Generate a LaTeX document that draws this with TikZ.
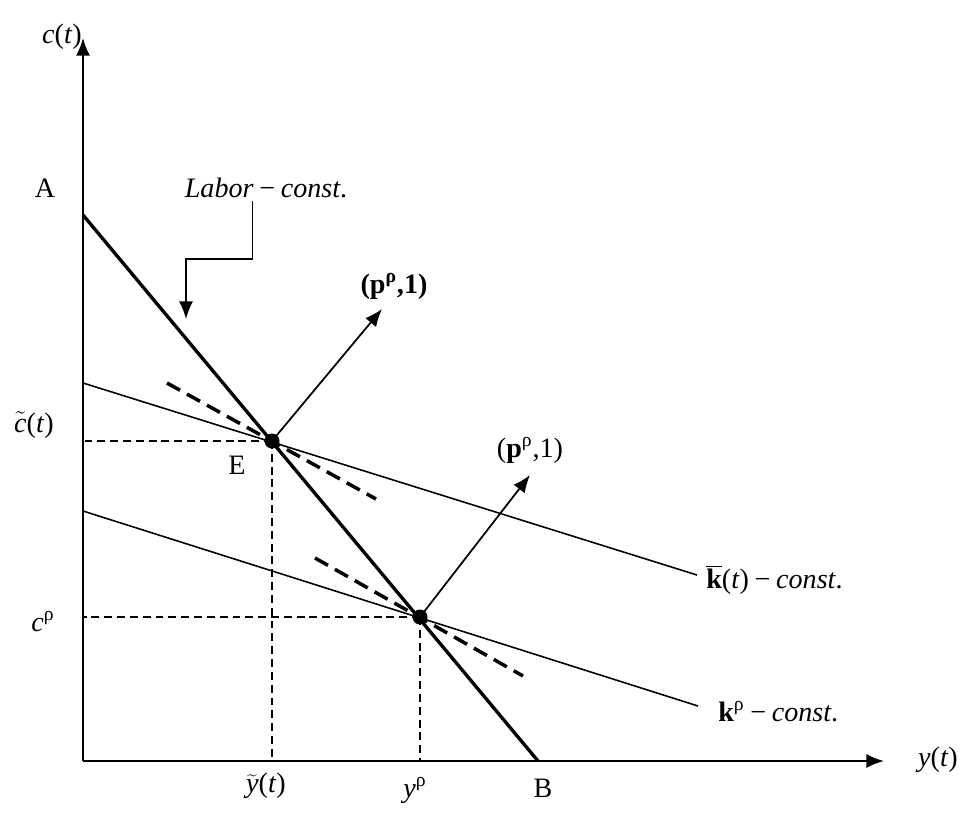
\documentclass[tikz,border=0pt]{standalone}
\usepackage{fontspec}
\setmainfont{Liberation Serif}
\usetikzlibrary{arrows.meta}

\newcommand{\mi}[1]{\textit{#1}}
\newcommand{\cst}{\kern0.2em\textminus\kern0.2em\mi{const}.}

\begin{document}
\begin{tikzpicture}[x=0.02cm, y=-0.02cm, font=\fontsize{16}{18}\selectfont,
	axis/.style={line width=1.1pt, -{Latex[length=10pt,width=8pt]}},
	labor/.style={line width=1.9pt},
	iso/.style={line width=0.9pt},
	tangent/.style={line width=2pt, dash pattern={on 8.5pt off 4.5pt}},
	guide/.style={line width=0.8pt, dash pattern={on 4.5pt off 2.8pt}},
	normal/.style={line width=1pt, -{Latex[length=10pt,width=8pt]}},
	lbl/.style={inner sep=0pt}]
	\useasboundingbox (0,0) rectangle (969,821);
	% points
	\coordinate (O) at (83,761);
	\coordinate (xtip) at (884,761);
	\coordinate (ytip) at (83,38);
	\coordinate (A) at (83,215);
	\coordinate (B) at (538,761);
	\coordinate (E) at (272,441);
	\coordinate (P) at (420,617);
	\coordinate (kbarL) at (83,383);
	\coordinate (kbarR) at (697,575);
	\coordinate (krhoL) at (83,511);
	\coordinate (krhoR) at (698,706);
	\coordinate (tanEL) at (167,383);
	\coordinate (tanER) at (376,499);
	\coordinate (tanPL) at (315,558);
	\coordinate (tanPR) at (523,676);
	\coordinate (normE) at (382,309);
	\coordinate (normP) at (530,475);
	% axes
	\draw[axis] (O) -- (xtip);
	\draw[axis] (O) -- (ytip);
	% iso lines
	\draw[iso] (kbarL) -- (kbarR);
	\draw[iso] (krhoL) -- (krhoR);
	\draw[labor] (A) -- (B);
	\draw[tangent] (tanEL) -- (tanER);
	\draw[tangent] (tanPL) -- (tanPR);
	% guides
	\draw[guide] (E) -- (E |- O);
	\draw[guide] (E) -- (E -| O);
	\draw[guide] (P) -- (P |- O);
	\draw[guide] (P) -- (P -| O);
	% normals
	\draw[normal] (E) -- (normE);
	\draw[normal] (P) -- (normP);
	\fill (E) circle[radius=0.15cm];
	\fill (P) circle[radius=0.15cm];
	% labels
	\node[lbl] (ct) at (62,37) {\mi{c}(\mi{t})};
	\node[lbl] (yt) at (938,760) {\mi{y}(\mi{t})};
	\node[lbl] (Alab) at (45,188) {A};
	\node[lbl] (Blab) at (543,788) {B};
	\node[lbl] (Elab) at (237,465) {E};
	\node[lbl] (labor) at (266,188) {\mi{Labor}\cst};
	\draw[normal, line width=0.9pt] (labor.south -| 252.5,0) ++(0,3) |- (186,259) -- (186,319);
	\node[lbl] (pE) at (394,286) {\textbf{(p\textsuperscript{ρ},1)}};
	\node[lbl] (pP) at (530,450) {(\textbf{p}\textsuperscript{ρ},1)};
	\node[lbl, anchor=west] (kbar) at (706,580) {$\overline{\hbox{\textbf{k}}}$(\mi{t})\cst};
	\node[lbl, anchor=west] (krho) at (718,712) {\textbf{k}\textsuperscript{ρ}\cst};
	\node[lbl] (ctil) at (34,425) {$\tilde{\hbox{\mi{c}}}$(\mi{t})};
	\node[lbl] (crho) at (43,622) {\mi{c}\textsuperscript{ρ}};
	\node[lbl] (ytil) at (266,786) {$\widetilde{\hbox{\mi{y}}}$(\mi{t})};
	\node[lbl] (yrho) at (415,790) {\mi{y}\textsuperscript{ρ}};
\end{tikzpicture}
\end{document}
